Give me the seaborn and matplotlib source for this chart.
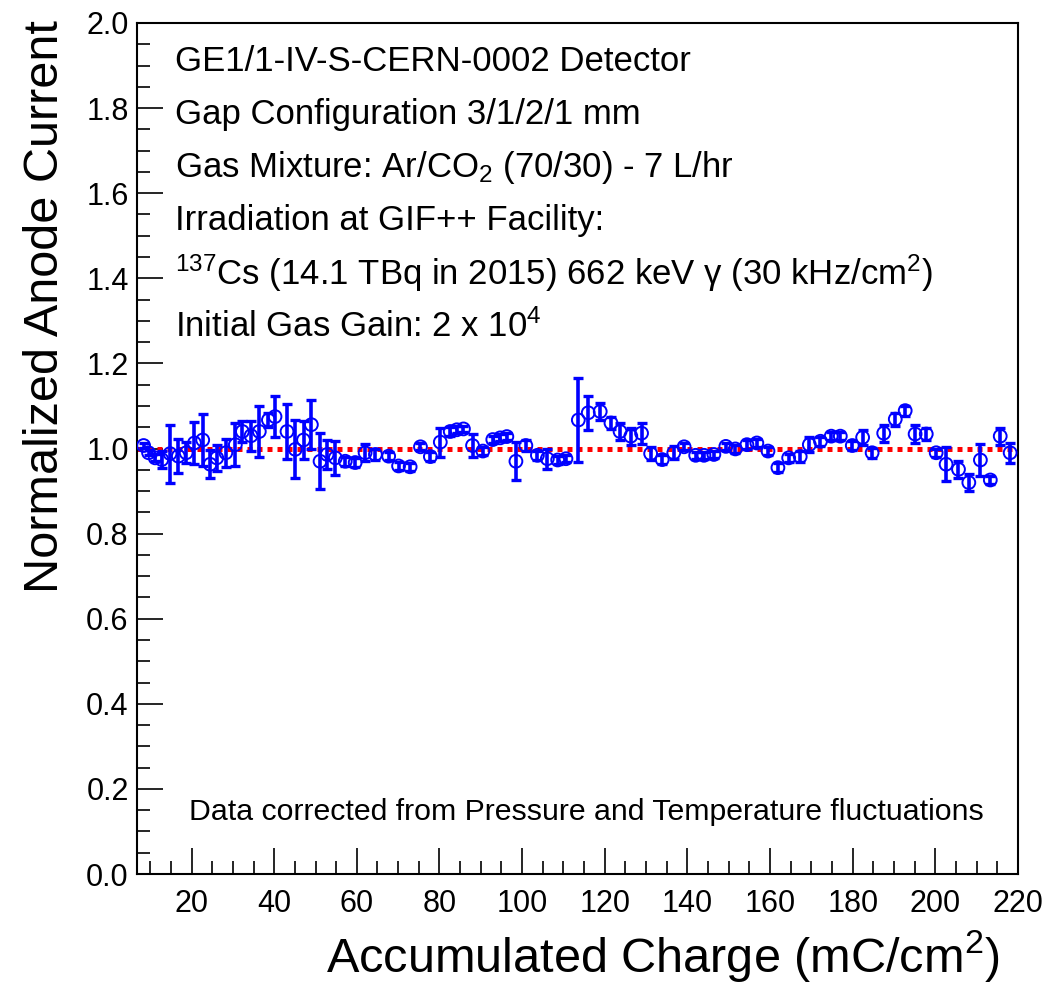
import numpy as np
import matplotlib
matplotlib.use("Agg")
import matplotlib.pyplot as plt
import seaborn as sns

# Accumulated charge (mC/cm^2), normalized anode current and its uncertainty
charge = [
    8.4, 9.6, 11.2, 12.8, 14.8, 16.8, 18.7, 20.7, 22.7, 24.5,
    26.1, 28.3, 30.6, 32.3, 34.4, 36.4, 38.6, 40.2, 43.1, 45.1,
    47.1, 49.0, 51.1, 52.8, 54.8, 57.2, 59.6, 62.0, 64.5, 67.7,
    70.1, 72.9, 75.4, 77.8, 80.2, 82.6, 84.2, 85.8, 88.0, 90.5,
    92.9, 94.7, 96.3, 98.5, 100.9, 103.7, 106.1, 108.6, 110.6, 113.6,
    116.0, 118.9, 121.5, 123.7, 126.3, 128.9, 131.1, 133.9, 136.7, 139.2,
    142.0, 144.0, 146.4, 149.3, 151.6, 154.4, 156.8, 159.5, 161.9, 164.5,
    167.3, 169.5, 172.2, 174.8, 177.0, 179.9, 182.4, 184.7, 187.5, 190.3,
    192.7, 195.1, 197.8, 200.2, 202.6, 205.6, 208.1, 210.9, 213.3, 215.7,
    218.1,
]
current = [
    1.007, 0.990, 0.978, 0.974, 0.988, 0.982, 0.990, 1.013, 1.020, 0.963,
    0.978, 0.990, 1.009, 1.040, 1.030, 1.040, 1.067, 1.075, 1.040, 0.998,
    1.020, 1.056, 0.970, 0.986, 0.978, 0.970, 0.967, 0.990, 0.986, 0.982,
    0.959, 0.957, 1.004, 0.981, 1.015, 1.040, 1.044, 1.046, 1.007, 0.994,
    1.021, 1.025, 1.028, 0.970, 1.007, 0.984, 0.976, 0.973, 0.976, 1.067,
    1.084, 1.087, 1.060, 1.040, 1.029, 1.036, 0.988, 0.974, 0.990, 1.004,
    0.984, 0.984, 0.986, 1.005, 0.999, 1.009, 1.013, 0.994, 0.955, 0.978,
    0.981, 1.009, 1.017, 1.029, 1.029, 1.007, 1.026, 0.990, 1.036, 1.069,
    1.089, 1.034, 1.034, 0.990, 0.963, 0.951, 0.920, 0.973, 0.926, 1.029,
    0.990,
]
current_err = [
    0.005, 0.006, 0.008, 0.020, 0.068, 0.040, 0.025, 0.049, 0.060, 0.033,
    0.030, 0.033, 0.050, 0.025, 0.035, 0.060, 0.017, 0.048, 0.064, 0.068,
    0.045, 0.057, 0.066, 0.035, 0.040, 0.010, 0.010, 0.020, 0.012, 0.010,
    0.010, 0.010, 0.008, 0.010, 0.034, 0.010, 0.008, 0.008, 0.026, 0.010,
    0.008, 0.008, 0.008, 0.045, 0.012, 0.010, 0.024, 0.010, 0.008, 0.098,
    0.040, 0.020, 0.015, 0.020, 0.020, 0.025, 0.015, 0.010, 0.015, 0.008,
    0.008, 0.008, 0.008, 0.008, 0.010, 0.010, 0.010, 0.010, 0.010, 0.010,
    0.012, 0.018, 0.010, 0.010, 0.010, 0.010, 0.017, 0.012, 0.020, 0.015,
    0.012, 0.022, 0.015, 0.010, 0.040, 0.020, 0.020, 0.037, 0.010, 0.020,
    0.023,
]

info_lines = [
    "GE1/1-IV-S-CERN-0002 Detector",
    "Gap Configuration 3/1/2/1 mm",
    "Gas Mixture: Ar/CO$_2$ (70/30) - 7 L/hr",
    "Irradiation at GIF++ Facility:",
    "$^{137}$Cs (14.1 TBq in 2015) 662 keV \u03b3 (30 kHz/cm$^2$)",
    "Initial Gas Gain: 2 x 10$^4$",
]
note = "Data corrected from Pressure and Temperature fluctuations"
xlabel = "Accumulated Charge (mC/cm$^2$)"
ylabel = "Normalized Anode Current"

sns.set_theme(style="ticks")
plt.rcParams["font.family"] = ["Liberation Sans", "DejaVu Sans"]
plt.rcParams["mathtext.fontset"] = "custom"
plt.rcParams["mathtext.rm"] = "Liberation Sans"
plt.rcParams["mathtext.it"] = "Liberation Sans:italic"
plt.rcParams["mathtext.bf"] = "Liberation Sans:bold"

W, H = 1048, 985
fig = plt.figure(figsize=(W / 100, H / 100), dpi=100)
ax = fig.add_axes([137 / W, 1 - 874 / H, (1018 - 137) / W, (874 - 23) / H])

df = {"charge": np.array(charge), "current": np.array(current)}

# reference line at unity
ax.axhline(1.0, color="#ff0000", lw=3.6, ls=(0, (1.0, 1.0)), zorder=2)

ax.errorbar(charge, current, yerr=current_err, fmt="none", ecolor="#0000ff",
            elinewidth=2.6, capsize=3.8, capthick=2.4, zorder=3)
sns.scatterplot(x="charge", y="current", data=df, ax=ax, marker="o", s=85,
                facecolor="none", edgecolor="#0000ff", linewidth=1.4,
                zorder=4, legend=False)

ax.set_xlim(6.8, 220)
ax.set_ylim(0.0, 2.0)
ax.set_xticks(np.arange(20, 221, 20))
ax.set_xticks(np.arange(10, 221, 5), minor=True)
ax.set_yticks(np.arange(0, 2.01, 0.2))
ax.set_yticks(np.arange(0, 2.01, 0.05), minor=True)
ax.set_yticklabels([f"{v:.1f}" for v in np.arange(0, 2.01, 0.2)])
ax.set_xlabel("")
ax.set_ylabel("")

ax.tick_params(axis="both", which="major", direction="in", length=19, width=1.2,
               labelsize=22, color="black", labelcolor="black")
ax.tick_params(axis="both", which="minor", direction="in", length=9.5, width=1.2,
               color="black")
ax.tick_params(axis="x", which="major", pad=11)
ax.tick_params(axis="y", which="major", pad=6)
for s in ax.spines.values():
    s.set_visible(True)
    s.set_linewidth(1.5)
    s.set_color("black")

# detector and run description
baselines = [71, 124, 177, 230, 285, 337]
for line, yb in zip(info_lines, baselines):
    fig.text(175 / W, 1 - yb / H, line, fontsize=25, ha="left", va="baseline",
             color="black")
fig.text(586 / W, 1 - 820 / H, note, fontsize=21.8, ha="center", va="baseline",
         color="black")

fig.text(1000 / W, 1 - 972 / H, xlabel, fontsize=35, ha="right", va="baseline",
         color="black")
fig.text(58 / W, 1 - 20 / H, ylabel, fontsize=35, ha="right", va="baseline",
         rotation=90, rotation_mode="anchor", color="black")

fig.savefig("out.png", dpi=100, facecolor="white")
